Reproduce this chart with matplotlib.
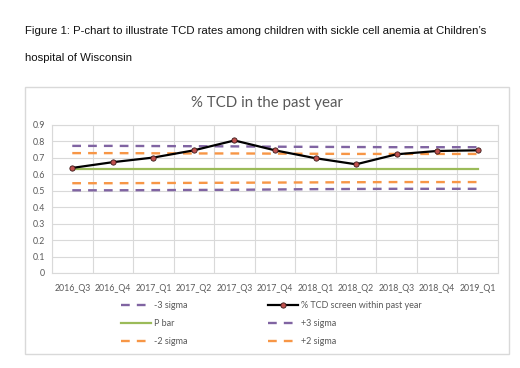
import matplotlib.pyplot as plt
from matplotlib.patches import Rectangle

# data
quarters = ["2016_Q3", "2016_Q4", "2017_Q1", "2017_Q2", "2017_Q3", "2017_Q4",
            "2018_Q1", "2018_Q2", "2018_Q3", "2018_Q4", "2019_Q1"]
tcd_rate = [0.639, 0.674, 0.702, 0.746, 0.806, 0.746, 0.698, 0.661, 0.722, 0.742, 0.746]
p_bar = [0.635] * 11
minus3 = [0.503, 0.503, 0.504, 0.505, 0.506, 0.508, 0.510, 0.511, 0.512, 0.512, 0.512]
plus3 = [0.773, 0.773, 0.772, 0.771, 0.770, 0.768, 0.767, 0.766, 0.765, 0.765, 0.765]
minus2 = [0.546, 0.546, 0.547, 0.548, 0.549, 0.550, 0.551, 0.552, 0.553, 0.553, 0.553]
plus2 = [0.729, 0.729, 0.728, 0.727, 0.727, 0.726, 0.725, 0.724, 0.724, 0.724, 0.724]

PURPLE = "#8064A2"
ORANGE = "#F79646"
GREEN = "#9BBB59"
GRID = "#D9D9D9"
TXT = "#595959"

W, H = 520, 368
fig = plt.figure(figsize=(W / 100, H / 100), dpi=100)

# caption above the chart
fig.text(25 / W, 1 - 31 / H, "Figure 1: P-chart to illustrate TCD rates among children with sickle cell anemia at Children\u2019s",
         family="Liberation Sans", fontsize=8.2, va="center", ha="left", color="#111111")
fig.text(25 / W, 1 - 58 / H, "hospital of Wisconsin",
         family="Liberation Sans", fontsize=8.2, va="center", ha="left", color="#111111")

# chart frame
fig.patches.append(Rectangle((25 / W, 1 - 354 / H), (509 - 25) / W, (354 - 87) / H,
                             transform=fig.transFigure, fill=False, edgecolor=GRID, linewidth=1))

fig.text(267 / W, 1 - 103 / H, "% TCD in the past year", family="Lato", fontsize=10.8,
         color=TXT, ha="center", va="center")

ax = fig.add_axes([52 / W, 1 - 273 / H, (498 - 52) / W, (273 - 125) / H])
x = range(len(quarters))
dash = (0, (3.7, 3))
ax.plot(x, minus3, color=PURPLE, lw=1.7, linestyle=dash, label="-3 sigma", zorder=2)
ax.plot(x, p_bar, color=GREEN, lw=1.6, label="P bar", zorder=2)
ax.plot(x, minus2, color=ORANGE, lw=1.7, linestyle=dash, label="-2 sigma", zorder=2)
ax.plot(x, plus3, color=PURPLE, lw=1.7, linestyle=dash, label="+3 sigma", zorder=2)
ax.plot(x, plus2, color=ORANGE, lw=1.7, linestyle=dash, label="+2 sigma", zorder=2)
ax.plot(x, tcd_rate, color="black", lw=1.6, marker="o", markersize=3.8,
        markerfacecolor="#C0504D", markeredgecolor="#3a1a1a", markeredgewidth=0.6,
        label="% TCD screen within past year", zorder=3)

ax.set_xlim(-0.5, len(quarters) - 0.5)
ax.set_ylim(0, 0.9)
ax.set_yticks([i / 10 for i in range(10)])
ax.set_yticklabels(["0"] + [f"{i / 10:.1f}" for i in range(1, 10)])
ax.set_xticks(list(x))
ax.set_xticklabels(quarters)
ax.set_xticks([i + 0.5 for i in range(-1, len(quarters))], minor=True)
ax.grid(True, axis="y", color=GRID, lw=0.8)
ax.grid(True, axis="x", which="minor", color=GRID, lw=0.8)
ax.set_axisbelow(True)
for s in ["left", "top", "right", "bottom"]:
    ax.spines[s].set_color(GRID)
    ax.spines[s].set_linewidth(0.8)
ax.tick_params(which="both", length=0, labelsize=6.3, labelcolor=TXT, pad=5)
ax.tick_params(axis="x", pad=8)
for lab in ax.get_xticklabels() + ax.get_yticklabels():
    lab.set_family("Lato")

# legend: row-major order in the reference, so feed matplotlib column-major
h, l = ax.get_legend_handles_labels()
by = dict(zip(l, h))
order = ["-3 sigma", "P bar", "-2 sigma", "% TCD screen within past year", "+3 sigma", "+2 sigma"]
leg = fig.legend([by[k] for k in order], order, ncol=2, loc="center left",
                 bbox_to_anchor=(113 / W, 1 - 323.5 / H), frameon=False,
                 prop={"family": "Lato", "size": 6.5}, labelcolor=TXT,
                 handlelength=3.3, handletextpad=0.3, columnspacing=9.0,
                 labelspacing=1.0)

fig.savefig("out.png", dpi=100)
